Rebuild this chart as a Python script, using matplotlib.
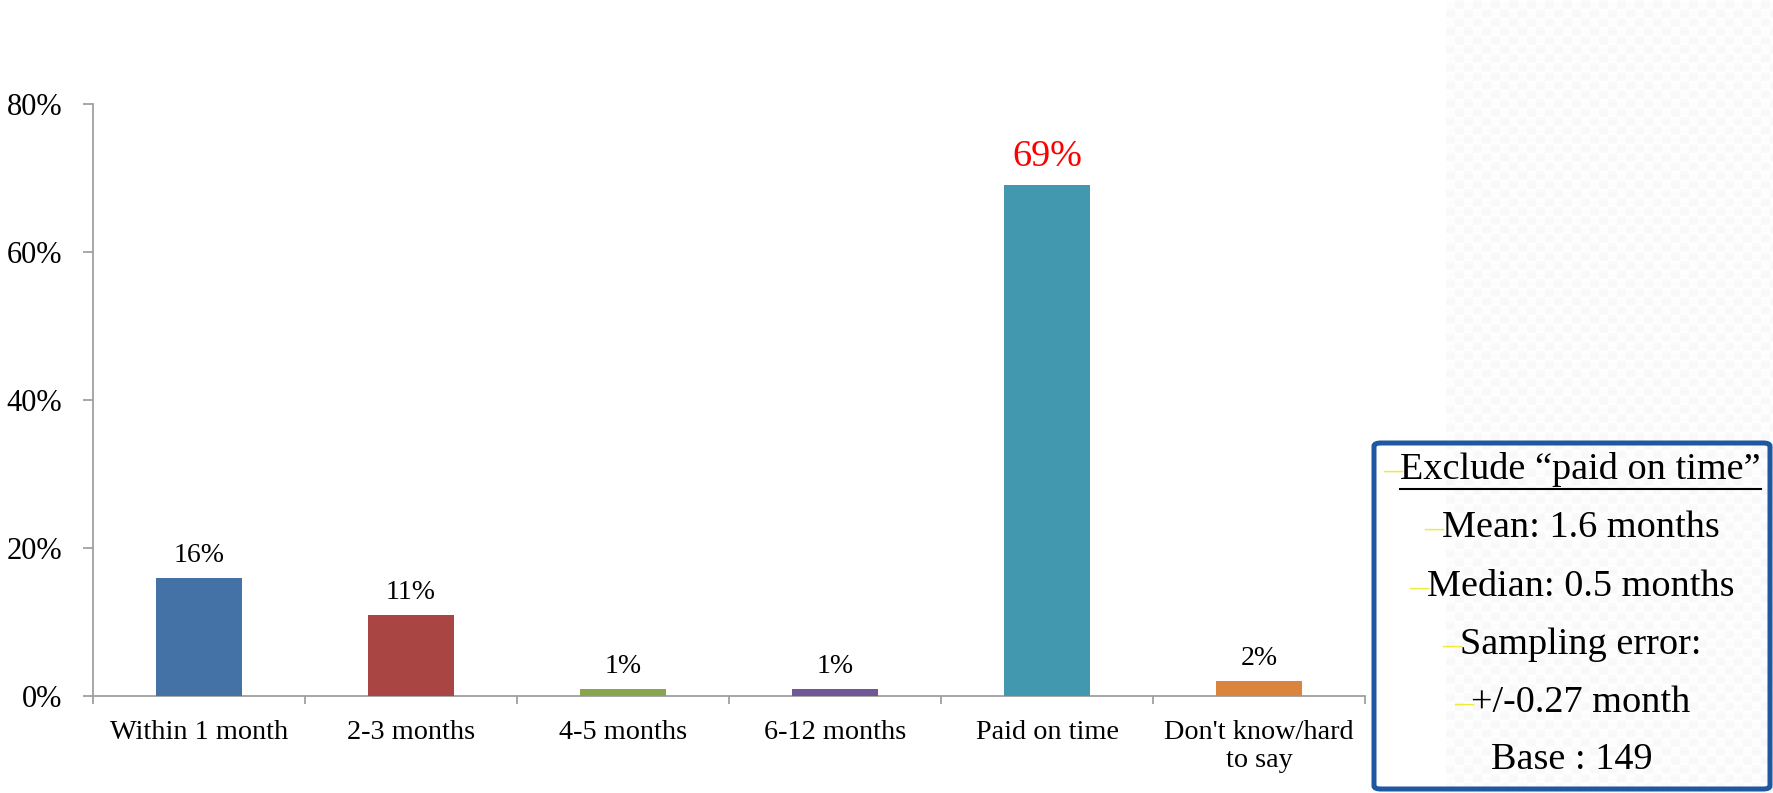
import numpy as np
import matplotlib
matplotlib.use("Agg")
import matplotlib.pyplot as plt
from matplotlib.patches import FancyBboxPatch
from matplotlib.lines import Line2D

categories = ["Within 1 month", "2-3 months", "4-5 months", "6-12 months",
              "Paid on time", "Don't know/hard\nto say"]
values = [16, 11, 1, 1, 69, 2]
bar_colors = ["#4472A7", "#A94643", "#89A54E", "#6F5895", "#4198AF", "#DB843D"]
label_colors = ["black", "black", "black", "black", "red", "black"]
label_sizes = [20, 20, 20, 20, 27.5, 20]
y_ticks = [0, 20, 40, 60, 80]
y_tick_labels = ["0%", "20%", "40%", "60%", "80%"]

box_lines = ["Exclude \u201cpaid on time\u201d", "Mean: 1.6 months", "Median: 0.5 months",
             "Sampling error:", "+/-0.27 month", "Base : 149"]
box_bullets = [True, True, True, True, True, False]

W, H = 1773, 793
fig = plt.figure(figsize=(W / 100, H / 100), dpi=100)
fig.patch.set_facecolor("white")
plt.rcParams["font.family"] = ["Liberation Serif", "DejaVu Serif"]

# Faint textured panel along the right edge
px0 = 1446
pw, ph = W - px0, H
yy, xx = np.mgrid[0:ph, 0:pw]
cell = 9
tex = ((xx // cell + yy // cell) % 2).astype(float)
shade = 1.0 - 0.018 * tex - 0.008 * np.sin(yy * np.pi / cell) ** 2
bg = fig.add_axes([px0 / W, 0, pw / W, 1])
bg.imshow(np.dstack([shade] * 3), aspect="auto", interpolation="bilinear",
          extent=[0, 1, 0, 1], vmin=0, vmax=1)
bg.axis("off")

# Bar chart
ax = fig.add_axes([93 / W, (H - 696) / H, 1272 / W, 592 / H])
ax.set_zorder(2)
ax.patch.set_alpha(0)
x = np.arange(len(categories))
ax.bar(x, values, width=0.405, color=bar_colors, zorder=3)
ax.set_xlim(-0.5, len(categories) - 0.5)
ax.set_ylim(0, 80)
ax.set_yticks(y_ticks)
ax.set_yticklabels(y_tick_labels, fontsize=22)
ax.set_xticks(x)
ax.set_xticklabels(categories, fontsize=20.3, linespacing=1.2)
ax.tick_params(axis="x", length=0, pad=17)
ax.tick_params(axis="y", length=7, width=1.3, color="#A0A0A0", pad=15)
# Category boundary tick marks on the x axis
ax.set_xticks(np.arange(-0.5, len(categories)), minor=True)
ax.tick_params(axis="x", which="minor", length=6, width=1.3, color="#A0A0A0")
for side in ["top", "right"]:
    ax.spines[side].set_visible(False)
for side in ["left", "bottom"]:
    ax.spines[side].set_color("#A0A0A0")
    ax.spines[side].set_linewidth(1.3)

for xi, v, c, s in zip(x, values, label_colors, label_sizes):
    off = 14 if s > 20 else 11.5
    ax.annotate(f"{v}%", (xi, v), xytext=(0, off), textcoords="offset points",
                ha="center", va="baseline", fontsize=s, color=c)

# Summary box
box = FancyBboxPatch((1374 / W, 4 / H), 396 / W, 346 / H,
                     boxstyle="round,pad=0,rounding_size=0.004",
                     transform=fig.transFigure, facecolor="none",
                     edgecolor="#1E58A0", linewidth=3.6, zorder=5)
fig.patches.append(box)

line_y = [470, 528, 587, 645, 703, 760]
cx = 1572
fig.canvas.draw()
renderer = fig.canvas.get_renderer()
for txt, bullet, yp in zip(box_lines, box_bullets, line_y):
    # measure so the bullet and text are centred together
    main = fig.text(0, 0, txt, fontsize=27.5, va="center", ha="left")
    w_main = main.get_window_extent(renderer).width
    dash_w = 0
    dash = None
    if bullet:
        dash = fig.text(0, 0, "\u2013", fontsize=27.5, va="center", ha="left",
                        color="#EFEA3A")
        dash_w = dash.get_window_extent(renderer).width * 0.9
    total = w_main + dash_w
    left = cx - total / 2
    main.set_position(((left + dash_w) / W, 1 - yp / H))
    if dash is not None:
        dash.set_position((left / W, 1 - yp / H))
    if txt.startswith("Exclude"):
        ux0 = (left + dash_w) / W
        ux1 = (left + dash_w + w_main) / W
        fig.lines.append(Line2D([ux0, ux1], [1 - 489 / H, 1 - 489 / H],
                                transform=fig.transFigure, color="black",
                                linewidth=1.5))

fig.savefig("out.png", dpi=100)
